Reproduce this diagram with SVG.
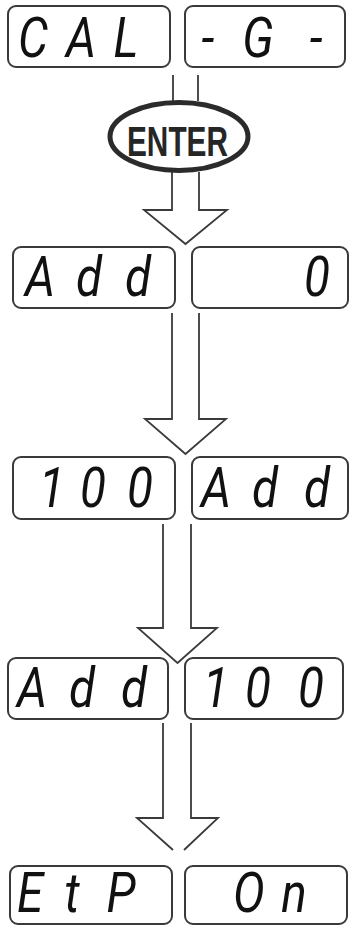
<svg xmlns="http://www.w3.org/2000/svg" width="350" height="926" viewBox="0 0 350 926">
  <style>
    .box { fill: #ffffff; stroke: #3a3a3a; stroke-width: 2; }
    .seg { font-family: Roboto, "Liberation Sans", sans-serif; font-style: italic; font-weight: 400; font-size: 56px; fill: #111111; text-anchor: middle; }
    .flow { fill: #ffffff; stroke: #3a3a3a; stroke-width: 1.8; stroke-linejoin: miter; }
    .key { fill: #ffffff; stroke: #2b2b2b; stroke-width: 5; }
    .keytxt { font-family: "Liberation Sans", Arial, sans-serif; font-weight: bold; font-size: 42px; fill: #262626; text-anchor: middle; }
  </style>

  <!-- connectors: hollow down arrows between display states -->
  <g id="connectors">
    <path class="flow" fill="none" d="M173,75 V101 M198,75 V101"/>
    <path class="flow" d="M172,172 V210 H144 L185.5,244 L227,210 H199 V172"/>
    <path class="flow" d="M172,313 V419 H145 L185.5,454 L226,419 H199 V313"/>
    <path class="flow" d="M163,524 V628 H138 L177.5,663 L217,628 H191 V524"/>
    <path class="flow" d="M163,723 V818 H137 L173,850 M184,850 L218,818 H191 V723"/>
  </g>

  <!-- ENTER key -->
  <g id="enter-key">
    <ellipse class="key" cx="179" cy="136.5" rx="69" ry="34"/>
    <text class="keytxt" x="177.5" y="156" textLength="101" lengthAdjust="spacingAndGlyphs">ENTER</text>
  </g>

  <!-- display state 1 -->
  <g id="state-cal">
    <rect class="box" x="8" y="6" width="162" height="61" rx="8"/>
    <rect class="box" x="185" y="6" width="160" height="61" rx="8"/>
    <text class="seg" transform="scale(0.85 1)" y="57" x="38.8 95.3 148.2">CAL</text>
    <text class="seg" transform="scale(0.85 1)" y="57" x="244.7 303.5 371.8">-G-</text>
  </g>

  <!-- display state 2 -->
  <g id="state-add-0">
    <rect class="box" x="13" y="247" width="162" height="61" rx="8"/>
    <rect class="box" x="192" y="247" width="156" height="61" rx="8"/>
    <text class="seg" transform="scale(0.85 1)" y="296" x="47.1 104.7 162.4">Add</text>
    <text class="seg" transform="scale(0.85 1)" y="296" x="372.9">0</text>
  </g>

  <!-- display state 3 -->
  <g id="state-100-add">
    <rect class="box" x="13" y="457" width="162" height="62" rx="8"/>
    <rect class="box" x="192" y="457" width="156" height="62" rx="8"/>
    <text class="seg" transform="scale(0.85 1)" y="507" x="61.2 109.4 164.7">100</text>
    <text class="seg" transform="scale(0.85 1)" y="507" x="254.1 311.8 372.9">Add</text>
  </g>

  <!-- display state 4 -->
  <g id="state-add-100">
    <rect class="box" x="8" y="658" width="160" height="61" rx="8"/>
    <rect class="box" x="185" y="658" width="158" height="61" rx="8"/>
    <text class="seg" transform="scale(0.85 1)" y="707" x="37.6 96.5 157.6">Add</text>
    <text class="seg" transform="scale(0.85 1)" y="707" x="254.1 303.5 365.9">100</text>
  </g>

  <!-- display state 5 -->
  <g id="state-etp-on">
    <rect class="box" x="10" y="866" width="162" height="58" rx="8"/>
    <rect class="box" x="185" y="866" width="162" height="58" rx="8"/>
    <text class="seg" transform="scale(0.85 1)" y="912" font-size="54" x="35.3 84.7 142.4">EtP</text>
    <text class="seg" transform="scale(0.85 1)" y="912" font-size="54" x="292.9 345.9">On</text>
  </g>
</svg>
